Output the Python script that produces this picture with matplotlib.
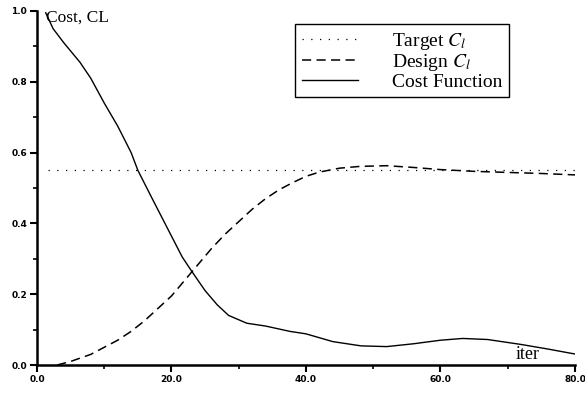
import numpy as np
import matplotlib.pyplot as plt
from matplotlib.ticker import MultipleLocator, FormatStrFormatter

plt.rcParams['mathtext.fontset'] = 'stix'

# values
iter_target = [1.6, 80.0]
cl_target = [0.55, 0.55]

iter_design = [3, 5, 8, 10, 12, 14, 16, 18, 20, 22, 24, 26, 28, 30, 32, 34, 36, 38,
               40, 42, 45, 48, 52, 56, 60, 65, 70, 75, 80]
cl_design = [0.0, 0.01, 0.03, 0.05, 0.07, 0.095, 0.125, 0.16, 0.195, 0.24, 0.285, 0.33,
             0.37, 0.405, 0.44, 0.47, 0.495, 0.515, 0.533, 0.545, 0.556, 0.561, 0.563,
             0.558, 0.552, 0.547, 0.544, 0.541, 0.537]

iter_cost = [1.3, 2.4, 4, 6.4, 8, 10, 12, 14, 15, 17, 19.3, 21.6, 23, 25, 26.8, 28.5,
             31.2, 34, 37.6, 40, 44, 48.2, 52, 56, 60, 63.3, 67, 72, 76, 80]
cost = [0.995, 0.95, 0.91, 0.855, 0.81, 0.74, 0.675, 0.60, 0.55, 0.475, 0.39, 0.305,
        0.265, 0.21, 0.17, 0.14, 0.118, 0.11, 0.095, 0.088, 0.066, 0.054, 0.052, 0.06,
        0.07, 0.075, 0.072, 0.058, 0.045, 0.031]

fig = plt.figure(figsize=(5.85, 3.94), dpi=100)
ax = fig.add_axes([0.0632, 0.0736, 0.9197, 0.8985])

ax.plot(iter_target, cl_target, color='black', lw=0.9, linestyle=(0, (1, 6)),
        label='Target $C_l$')
ax.plot(iter_design, cl_design, color='black', lw=1.1, linestyle=(0, (6, 3.5)),
        label='Design $C_l$')
ax.plot(iter_cost, cost, color='black', lw=1.0, label='Cost Function')

ax.set_xlim(0, 80)
ax.set_ylim(0, 1.0)
for s in ['top', 'right']:
    ax.spines[s].set_visible(False)
for s in ['left', 'bottom']:
    ax.spines[s].set_linewidth(1.8)

ax.xaxis.set_major_locator(MultipleLocator(20))
ax.xaxis.set_minor_locator(MultipleLocator(10))
ax.yaxis.set_major_locator(MultipleLocator(0.2))
ax.yaxis.set_minor_locator(MultipleLocator(0.1))
ax.xaxis.set_major_formatter(FormatStrFormatter('%.1f'))
ax.yaxis.set_major_formatter(FormatStrFormatter('%.1f'))
ax.tick_params(which='major', direction='out', length=5, width=1.5, pad=2)
ax.tick_params(which='minor', direction='out', length=3, width=1.2)
for lab in ax.get_xticklabels() + ax.get_yticklabels():
    lab.set_fontsize(6.5)
    lab.set_fontweight('bold')

ax.text(1.3, 0.98, 'Cost, CL', family='Liberation Serif', fontsize=12.5, va='center', ha='left')
ax.text(72.9, 0.03, 'iter', family='Liberation Serif', fontsize=13, va='center', ha='center')

leg = ax.legend(loc='upper left', bbox_to_anchor=(0.4796, 0.963), fancybox=False,
                edgecolor='black', framealpha=1, handlelength=2.9, handletextpad=1.75,
                labelspacing=0.0, borderpad=0.35, borderaxespad=0,
                prop={'family': 'Liberation Serif', 'size': 14})
leg.get_frame().set_linewidth(1.0)

fig.savefig('out.png', dpi=100)
